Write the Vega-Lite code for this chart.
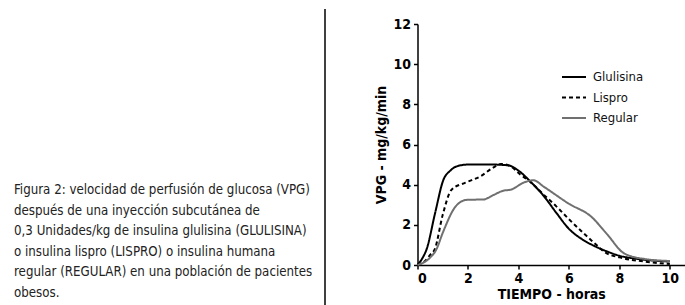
{
  "$schema": "https://vega.github.io/schema/vega-lite/v6.json",
  "padding": {"left": 14, "top": 8, "right": 0, "bottom": 0},
  "background": "white",
  "config": {
    "view": {"stroke": null},
    "font": "DejaVu Sans Condensed, sans-serif",
    "axis": {
      "grid": false,
      "domainColor": "#000",
      "domainWidth": 1.5,
      "tickColor": "#000",
      "tickWidth": 1.5,
      "tickSize": 4,
      "labelFont": "DejaVu Sans Condensed, sans-serif",
      "labelFontSize": 14,
      "labelFontWeight": "bold",
      "labelColor": "#000",
      "titleFont": "DejaVu Sans Condensed, sans-serif",
      "titleFontSize": 14,
      "titleFontWeight": "bold",
      "titleColor": "#000"
    }
  },
  "hconcat": [
    {
      "width": 311,
      "height": 241,
      "layer": [
        {
          "data": {"values": [
            {"line": 1, "text": "Figura 2: velocidad de perfusión de glucosa (VPG)"},
            {"line": 2, "text": "después de una inyección subcutánea de"},
            {"line": 3, "text": "0,3 Unidades/kg de insulina glulisina (GLULISINA)"},
            {"line": 4, "text": "o insulina lispro (LISPRO) o insulina humana"},
            {"line": 5, "text": "regular (REGULAR) en una población de pacientes"},
            {"line": 6, "text": "obesos."}
          ]},
          "mark": {"type": "text", "align": "left", "baseline": "middle", "fontSize": 13.2, "color": "#222", "font": "DejaVu Sans Condensed, sans-serif"},
          "encoding": {
            "x": {"datum": 0, "type": "quantitative", "scale": {"domain": [0, 1], "nice": false, "zero": false}, "axis": null},
            "y": {"field": "line", "type": "quantitative", "scale": {"domain": [-7.098, 4.658], "reverse": true, "nice": false, "zero": false}, "axis": null},
            "text": {"field": "text"}
          }
        },
        {
          "data": {"values": [{"sep": "line"}]},
          "mark": {"type": "rule", "color": "#000", "strokeWidth": 1.5},
          "encoding": {
            "x": {"datum": 1, "type": "quantitative"},
            "y": {"datum": -7.83, "type": "quantitative"},
            "y2": {"datum": 6.8}
          }
        }
      ]
    },
    {
      "width": 267.5,
      "height": 241,
      "data": {"values": [
        {"t": 0, "v": 0, "s": "Glulisina"},
        {"t": 0.2, "v": 0.35, "s": "Glulisina"},
        {"t": 0.36, "v": 0.78, "s": "Glulisina"},
        {"t": 0.7, "v": 2.6, "s": "Glulisina"},
        {"t": 1.02, "v": 4.22, "s": "Glulisina"},
        {"t": 1.3, "v": 4.7, "s": "Glulisina"},
        {"t": 1.6, "v": 4.93, "s": "Glulisina"},
        {"t": 2.0, "v": 5.0, "s": "Glulisina"},
        {"t": 3.0, "v": 5.0, "s": "Glulisina"},
        {"t": 3.6, "v": 4.96, "s": "Glulisina"},
        {"t": 4.0, "v": 4.7, "s": "Glulisina"},
        {"t": 4.5, "v": 4.12, "s": "Glulisina"},
        {"t": 5.0, "v": 3.44, "s": "Glulisina"},
        {"t": 5.5, "v": 2.6, "s": "Glulisina"},
        {"t": 6.0, "v": 1.8, "s": "Glulisina"},
        {"t": 6.5, "v": 1.3, "s": "Glulisina"},
        {"t": 7.0, "v": 0.95, "s": "Glulisina"},
        {"t": 7.5, "v": 0.68, "s": "Glulisina"},
        {"t": 8.0, "v": 0.46, "s": "Glulisina"},
        {"t": 8.5, "v": 0.34, "s": "Glulisina"},
        {"t": 9.0, "v": 0.26, "s": "Glulisina"},
        {"t": 10.0, "v": 0.17, "s": "Glulisina"},
        {"t": 0, "v": 0, "s": "Lispro"},
        {"t": 0.3, "v": 0.2, "s": "Lispro"},
        {"t": 0.5, "v": 0.5, "s": "Lispro"},
        {"t": 0.69, "v": 0.8, "s": "Lispro"},
        {"t": 1.0, "v": 2.5, "s": "Lispro"},
        {"t": 1.35, "v": 3.75, "s": "Lispro"},
        {"t": 1.9, "v": 4.1, "s": "Lispro"},
        {"t": 2.5, "v": 4.42, "s": "Lispro"},
        {"t": 3.0, "v": 4.85, "s": "Lispro"},
        {"t": 3.3, "v": 5.03, "s": "Lispro"},
        {"t": 3.66, "v": 4.93, "s": "Lispro"},
        {"t": 4.06, "v": 4.52, "s": "Lispro"},
        {"t": 4.5, "v": 4.1, "s": "Lispro"},
        {"t": 5.0, "v": 3.5, "s": "Lispro"},
        {"t": 5.5, "v": 2.92, "s": "Lispro"},
        {"t": 6.0, "v": 2.28, "s": "Lispro"},
        {"t": 6.5, "v": 1.68, "s": "Lispro"},
        {"t": 7.0, "v": 1.1, "s": "Lispro"},
        {"t": 7.5, "v": 0.58, "s": "Lispro"},
        {"t": 8.0, "v": 0.38, "s": "Lispro"},
        {"t": 9.0, "v": 0.17, "s": "Lispro"},
        {"t": 10.0, "v": 0.05, "s": "Lispro"},
        {"t": 0, "v": 0, "s": "Regular"},
        {"t": 0.5, "v": 0.37, "s": "Regular"},
        {"t": 0.75, "v": 0.78, "s": "Regular"},
        {"t": 1.0, "v": 1.6, "s": "Regular"},
        {"t": 1.5, "v": 2.9, "s": "Regular"},
        {"t": 1.75, "v": 3.17, "s": "Regular"},
        {"t": 2.0, "v": 3.25, "s": "Regular"},
        {"t": 2.6, "v": 3.26, "s": "Regular"},
        {"t": 3.0, "v": 3.48, "s": "Regular"},
        {"t": 3.4, "v": 3.7, "s": "Regular"},
        {"t": 3.7, "v": 3.75, "s": "Regular"},
        {"t": 4.2, "v": 4.1, "s": "Regular"},
        {"t": 4.6, "v": 4.22, "s": "Regular"},
        {"t": 5.0, "v": 3.9, "s": "Regular"},
        {"t": 6.0, "v": 3.05, "s": "Regular"},
        {"t": 6.9, "v": 2.39, "s": "Regular"},
        {"t": 7.5, "v": 1.55, "s": "Regular"},
        {"t": 8.2, "v": 0.57, "s": "Regular"},
        {"t": 9.0, "v": 0.3, "s": "Regular"},
        {"t": 10.0, "v": 0.2, "s": "Regular"}
      ]},
      "mark": {"type": "line", "interpolate": "monotone"},
      "encoding": {
        "x": {"field": "t", "type": "quantitative", "scale": {"domain": [0, 10.6], "nice": false},
              "axis": {"values": [0, 2, 4, 6, 8, 10], "title": "TIEMPO - horas", "labelPadding": 2, "titlePadding": 2}},
        "y": {"field": "v", "type": "quantitative", "scale": {"domain": [0, 12], "nice": false},
              "axis": {"values": [0, 2, 4, 6, 8, 10, 12], "title": "VPG - mg/kg/min", "labelPadding": 3, "titlePadding": 4}},
        "color": {"field": "s", "type": "nominal", "scale": {"domain": ["Glulisina", "Lispro", "Regular"], "range": ["#000000", "#000000", "#707070"]},
                  "legend": {"title": null, "orient": "none", "legendX": 547, "legendY": 40, "symbolType": "stroke", "symbolSize": 576, "symbolStrokeWidth": 2, "labelFontSize": 13, "labelColor": "#111", "labelOffset": 6, "rowPadding": 0.5, "labelFont": "DejaVu Sans Condensed, sans-serif"}},
        "strokeDash": {"field": "s", "type": "nominal", "scale": {"domain": ["Glulisina", "Lispro", "Regular"], "range": [[1, 0], [4, 3], [1, 0]]}, "legend": {"title": null, "orient": "none", "legendX": 547, "legendY": 40, "symbolType": "stroke", "symbolSize": 576, "symbolStrokeWidth": 2, "labelFontSize": 13, "labelOffset": 6, "rowPadding": 0.5}},
        "strokeWidth": {"field": "s", "type": "ordinal", "scale": {"domain": ["Glulisina", "Lispro", "Regular"], "range": [2, 2, 1.5]}, "legend": null}
      }
    }
  ],
  "spacing": 92.5,
  "bounds": "flush"
}
